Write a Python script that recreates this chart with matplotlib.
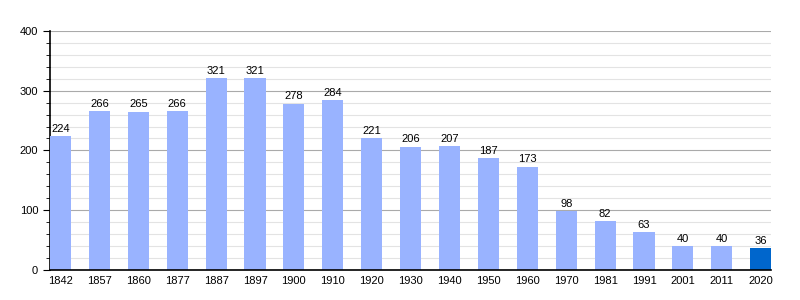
import matplotlib
matplotlib.use('Agg')
import matplotlib.pyplot as plt
import numpy as np
from matplotlib.ticker import MultipleLocator

plt.rcParams['font.family'] = ['Liberation Sans', 'DejaVu Sans']

years = ['1842', '1857', '1860', '1877', '1887', '1897', '1900', '1910', '1920',
         '1930', '1940', '1950', '1960', '1970', '1981', '1991', '2001', '2011', '2020']
population = [224, 266, 265, 266, 321, 321, 278, 284, 221,
              206, 207, 187, 173, 98, 82, 63, 40, 40, 36]

colors = ['#99b3ff'] * (len(years) - 1) + ['#0066cc']

fig = plt.figure(figsize=(8, 3), dpi=100)
ax = fig.add_axes([0.0625, 0.1, 0.9015, 0.797])

index = np.arange(len(years))
width = 0.54
ax.bar(index, population, width, color=colors, zorder=3)
for i, v in zip(index, population):
    ax.text(i, v + 4, str(v), ha='center', va='bottom', fontsize=8, zorder=4)

ax.set_xlim(-width / 2, len(years) - 1 + width / 2)
ax.set_ylim(0, 400)
ax.set_xticks(index)
ax.set_xticklabels(years, fontsize=8)
ax.tick_params(axis='x', length=0, pad=4)
ax.yaxis.set_major_locator(MultipleLocator(100))
ax.yaxis.set_minor_locator(MultipleLocator(20))
ax.tick_params(axis='y', which='major', length=5, labelsize=8, direction='out')
ax.tick_params(axis='y', which='minor', length=3, direction='out')
ax.grid(axis='y', which='major', color='#aaaaaa', linewidth=0.8, zorder=0)
ax.grid(axis='y', which='minor', color='#e3e3e3', linewidth=0.8, zorder=0)
ax.spines['top'].set_visible(False)
ax.spines['right'].set_visible(False)
ax.spines['left'].set_linewidth(1.2)
ax.spines['bottom'].set_linewidth(1.2)
ax.spines['bottom'].set_zorder(5)

fig.savefig('out.png', dpi=100)
